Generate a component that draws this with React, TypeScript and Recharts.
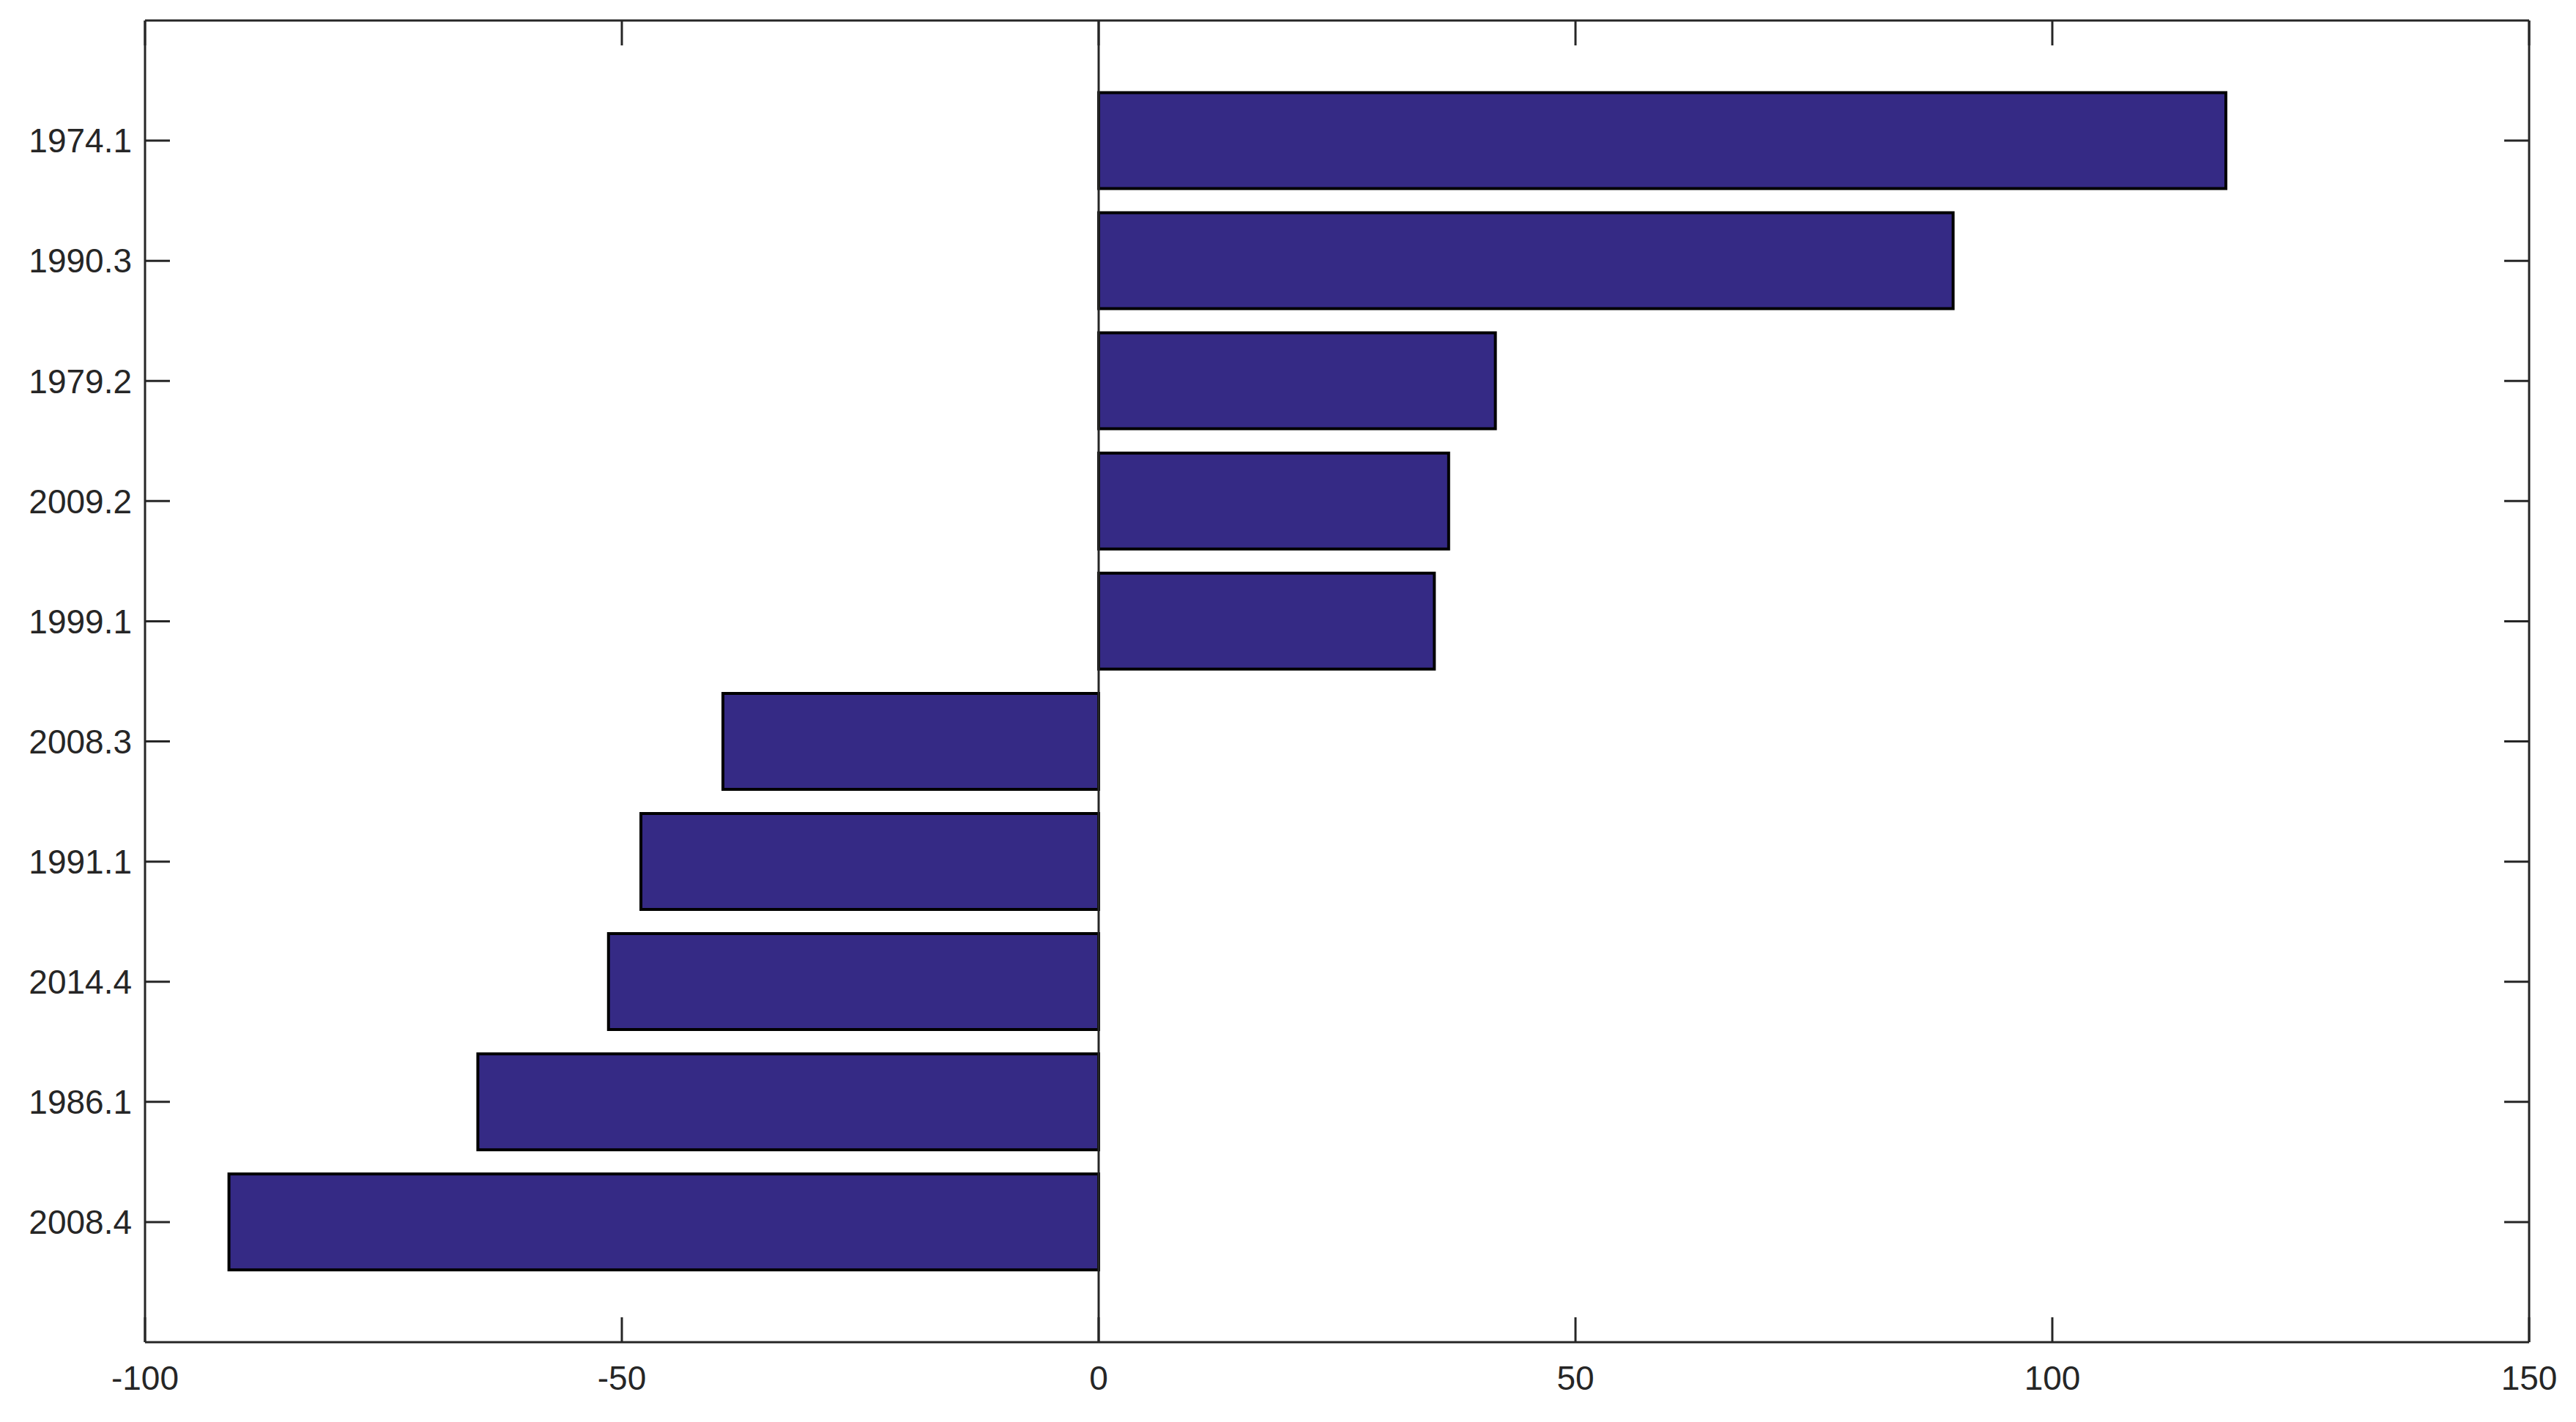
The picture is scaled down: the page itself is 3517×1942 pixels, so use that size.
import React from "react";
import { BarChart, Bar, XAxis, YAxis, ReferenceLine } from "recharts";

const categories = ["1974.1", "1990.3", "1979.2", "2009.2", "1999.1", "2008.3", "1991.1", "2014.4", "1986.1", "2008.4"];
const values = [118.2, 89.6, 41.6, 36.7, 35.2, -39.4, -48.0, -51.4, -65.1, -91.2];
const xTicks = [-100, -50, 0, 50, 100, 150];

const data = categories.map((name, i) => ({ name, value: values[i] }));

const AXIS = "#262626";
const FONT = "'Liberation Sans', Arial, Helvetica, sans-serif";
const tickStyle = { fontSize: 46, fill: AXIS, fontFamily: FONT };
const emptyTick = () => <g />;

export default function App() {
  return (
    <div style={{ position: "absolute", left: 0, top: 0, width: 3517, height: 1942, background: "#fff" }}>
      <BarChart
        width={3517}
        height={1942}
        data={data}
        layout="vertical"
        margin={{ top: 0, right: 0, bottom: 0, left: 0 }}
        barCategoryGap="10%"
      >
        <XAxis
          xAxisId="bottom"
          type="number"
          orientation="bottom"
          domain={[-100, 150]}
          ticks={xTicks}
          interval={0}
          height={109}
          allowDataOverflow
          axisLine={{ stroke: AXIS, strokeWidth: 3 }}
          tickLine={{ stroke: AXIS, strokeWidth: 3 }}
          tickSize={-34}
          tickMargin={66}
          tick={tickStyle}
        />
        <XAxis
          xAxisId="top"
          type="number"
          orientation="top"
          domain={[-100, 150]}
          ticks={xTicks}
          interval={0}
          height={28}
          allowDataOverflow
          axisLine={{ stroke: AXIS, strokeWidth: 3 }}
          tickLine={{ stroke: AXIS, strokeWidth: 3 }}
          tickSize={-34}
          tick={emptyTick}
        />
        <YAxis
          yAxisId="left"
          type="category"
          dataKey="name"
          orientation="left"
          width={198}
          interval={0}
          padding={{ top: 82, bottom: 82 }}
          axisLine={{ stroke: AXIS, strokeWidth: 3 }}
          tickLine={{ stroke: AXIS, strokeWidth: 3 }}
          tickSize={-34}
          tickMargin={52}
          tick={tickStyle}
        />
        <YAxis
          yAxisId="right"
          type="category"
          dataKey="name"
          orientation="right"
          width={64}
          interval={0}
          padding={{ top: 82, bottom: 82 }}
          axisLine={{ stroke: AXIS, strokeWidth: 3 }}
          tickLine={{ stroke: AXIS, strokeWidth: 3 }}
          tickSize={-34}
          tick={emptyTick}
        />
        <Bar
          dataKey="value"
          xAxisId="bottom"
          yAxisId="left"
          fill="#352A85"
          stroke="#000"
          strokeWidth={4}
          isAnimationActive={false}
        />
        <ReferenceLine x={0} xAxisId="bottom" yAxisId="left" stroke={AXIS} strokeWidth={3} />
      </BarChart>
    </div>
  );
}
